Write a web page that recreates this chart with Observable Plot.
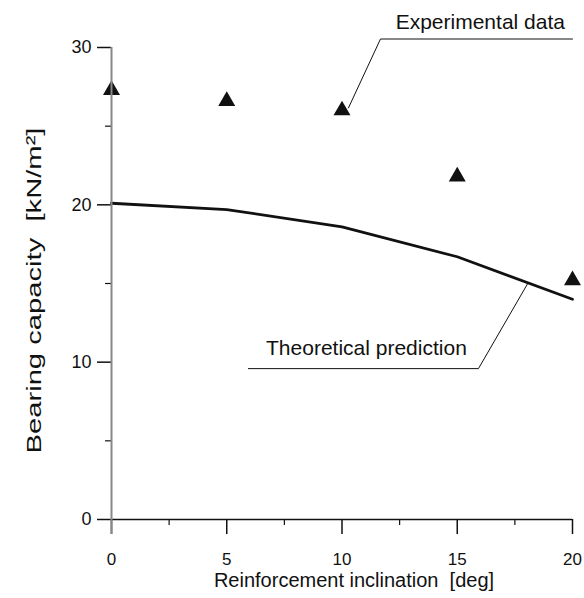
<!DOCTYPE html>
<html>
<head>
<meta charset="utf-8">
<script src="https://cdn.jsdelivr.net/npm/d3@7"></script>
<script src="https://cdn.jsdelivr.net/npm/@observablehq/plot@0.6"></script>
<style>
  html, body { margin: 0; padding: 0; background: white; }
</style>
</head>
<body>
<div id="chart"></div>
<script>
const inclination = [0, 5, 10, 15, 20];
const experimental = [27.3, 26.6, 26.0, 21.8, 15.2];
const theoretical = [20.1, 19.7, 18.6, 16.7, 14.0];

const xMajorTicks = [0, 5, 10, 15, 20];
const xMinorTicks = [2.5, 7.5, 12.5, 17.5];
const yMajorTicks = [0, 10, 20, 30];
const yMinorTicks = [5, 15, 25];

const xTitle = "Reinforcement inclination\u00a0\u00a0[deg]";
const yTitle = "Bearing capacity\u00a0\u00a0[kN/m\u00b2]";

const annotLabels = ["Experimental data", "Theoretical prediction"];
const annotLabelX = [16.0, 11.06];
const annotLabelY = [31.62, 10.86];
const expLeaderX = [20.0, 11.67, 10.28];
const expLeaderY = [30.54, 30.54, 26.16];
const theoLeaderX = [5.94, 15.92, 18.05];
const theoLeaderY = [9.59, 9.59, 14.98];

const expData = inclination.map((x, i) => ({x, y: experimental[i]}));
const theoData = inclination.map((x, i) => ({x, y: theoretical[i]}));
const labels = annotLabels.map((t, i) => ({t, x: annotLabelX[i], y: annotLabelY[i]}));
const expLeader = expLeaderX.map((x, i) => ({x, y: expLeaderY[i]}));
const theoLeader = theoLeaderX.map((x, i) => ({x, y: theoLeaderY[i]}));

const chart = Plot.plot({
  width: 584,
  height: 598,
  marginLeft: 111,
  marginRight: 12,
  marginTop: 47,
  marginBottom: 79,
  style: {fontFamily: "'Liberation Sans', Arial, sans-serif", background: "white", color: "#111"},
  x: {domain: [0, 20]},
  y: {domain: [0, 30]},
  marks: [
    Plot.ruleY([0], {stroke: "#111", strokeWidth: 1.5}),
    Plot.axisX({ticks: xMajorTicks, tickSize: 15, tickPadding: 18, fontSize: 17, label: null, strokeWidth: 1.5}),
    Plot.axisX({ticks: xMinorTicks, tickSize: 6, tickFormat: () => "", label: null, strokeWidth: 1.2}),
    Plot.axisY({ticks: yMajorTicks, tickSize: 14, tickPadding: 6, fontSize: 18, label: null, strokeWidth: 1.5}),
    Plot.axisY({ticks: yMinorTicks, tickSize: 6, tickFormat: () => "", label: null, strokeWidth: 1.2}),
    Plot.line(theoData, {x: "x", y: "y", stroke: "#111", strokeWidth: 2.8}),
    Plot.dot(expData, {x: "x", y: "y", symbol: "triangle", r: 6.3, fill: "#111", stroke: "none"}),
    Plot.ruleX([0], {y1: 30, y2: -0.95, stroke: "#888", strokeWidth: 2}),
    Plot.line(expLeader, {x: "x", y: "y", stroke: "#111", strokeWidth: 1}),
    Plot.line(theoLeader, {x: "x", y: "y", stroke: "#111", strokeWidth: 1}),
    Plot.text(labels, {x: "x", y: "y", text: "t", fontSize: 21, fill: "#111"}),
    Plot.text([xTitle], {frameAnchor: "bottom", lineAnchor: "middle", dx: 12, dy: 61, fontSize: 20, fill: "#111"}),
    Plot.text([yTitle], {frameAnchor: "left", dx: -77, dy: 170, rotate: -90, textAnchor: "start", fontSize: 21, fill: "#111", className: "ytitle"})
  ]
});
document.getElementById("chart").appendChild(chart);
d3.select(chart).selectAll(".ytitle text").attr("textLength", 326).attr("lengthAdjust", "spacingAndGlyphs");
</script>
</body>
</html>
